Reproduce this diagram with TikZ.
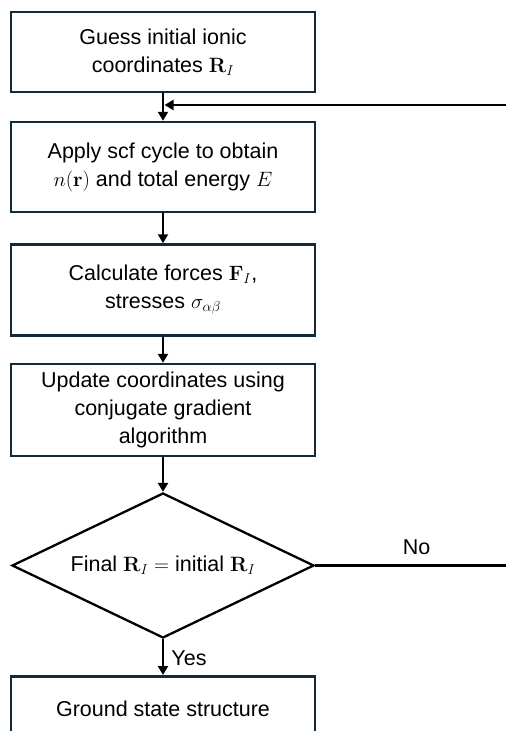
\documentclass[tikz,border=0pt]{standalone}
\usepackage[no-math]{fontspec}
\setmainfont{Liberation Sans}
\usetikzlibrary{shapes.geometric,arrows.meta}
\definecolor{boxline}{HTML}{132A3B}
\begin{document}
\begin{tikzpicture}[x=1pt,y=1pt,
  every node/.style={font=\fontsize{21.5}{28}\selectfont},
  procbox/.style={draw=boxline,line width=2.5pt,rectangle,minimum width=304pt,
    inner sep=0pt,align=center,fill=white},
  decision/.style={draw=black,line width=2.3pt,diamond,minimum width=302pt,
    minimum height=145pt,inner sep=0pt,aspect=2.08,align=center},
  flow/.style={line width=2.3pt,-{Triangle[width=10pt,length=9pt]}},
  plain/.style={line width=2.3pt}]
\useasboundingbox (0,0) rectangle (506,-731);

\node[procbox,minimum height=80pt] (guess) at (163,-52)
  {Guess initial ionic\\coordinates $\mathbf{R}_I$};
\node[procbox,minimum height=90pt] (scf) at (163,-167)
  {Apply scf cycle to obtain\\$n(\mathbf{r})$ and total energy $E$};
\node[procbox,minimum height=91pt] (forces) at (163,-290)
  {Calculate forces $\mathbf{F}_I$,\\stresses $\sigma_{\alpha\beta}$};
\node[procbox,minimum height=92pt] (update) at (163,-410)
  {Update coordinates using\\conjugate gradient\\algorithm};
\node[decision] (check) at (163,-565.5)
  {Final $\mathbf{R}_I=$ initial $\mathbf{R}_I$};
\node[procbox,minimum height=100pt,anchor=north] (ground) at (163,-675)
  {\raisebox{36pt}{Ground state structure}};

% main downward flow
\coordinate (join) at (163,-105);
\draw[flow] (guess.south) -- (scf.north);
\draw[flow] (scf.south) -- (forces.north);
\draw[flow] (forces.south) -- (update.north);
\draw[flow] (update.south) -- (check.north);
\draw[flow] (check.south) -- node[right=4pt,yshift=-1pt] (yes) {Yes} (ground.north);

% loop back when the coordinates have not converged
\coordinate (backlow) at (540,-565.5);
\coordinate (backhigh) at (540,-105);
\draw[plain] (check.east) -- node[above=6pt,xshift=-11pt] (no) {No} (backlow) -- (backhigh);
\draw[flow] (backhigh) -- ([xshift=1.5pt]join);
\end{tikzpicture}
\end{document}
